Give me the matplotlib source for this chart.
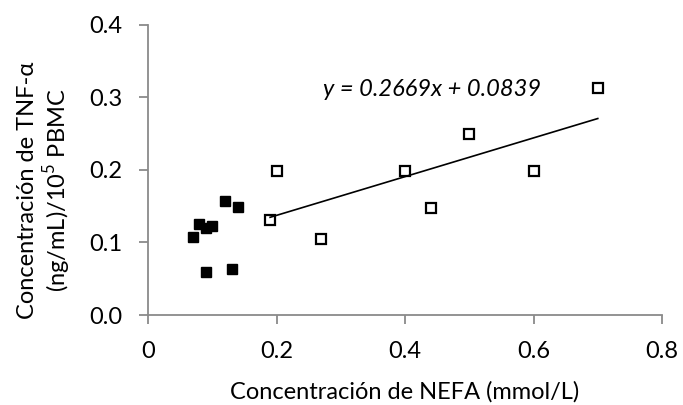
import matplotlib
matplotlib.use("Agg")
import matplotlib.pyplot as plt
import numpy as np

plt.rcParams["font.family"] = ["Lato", "DejaVu Sans"]
plt.rcParams["mathtext.fontset"] = "custom"
plt.rcParams["mathtext.rm"] = "Lato"

# filled squares
nefa_low = [0.07, 0.08, 0.09, 0.10, 0.12, 0.14, 0.09, 0.13]
tnf_low = [0.108, 0.126, 0.120, 0.122, 0.157, 0.149, 0.059, 0.063]

# open squares
nefa_high = [0.19, 0.20, 0.27, 0.40, 0.44, 0.50, 0.60, 0.70]
tnf_high = [0.131, 0.198, 0.105, 0.198, 0.148, 0.249, 0.198, 0.313]

slope, intercept = 0.2669, 0.0839

x_ticks = [0, 0.2, 0.4, 0.6, 0.8]
x_tick_labels = ["0", "0.2", "0.4", "0.6", "0.8"]
y_ticks = [0.0, 0.1, 0.2, 0.3, 0.4]

fig = plt.figure(figsize=(6.83, 4.05), dpi=100)
ax = fig.add_axes([0.2167, 0.2222, 0.9693 - 0.2167, 0.939 - 0.2222])

ax.plot(nefa_low, tnf_low, "s", color="black", markersize=7, linestyle="none")
ax.plot(nefa_high, tnf_high, "s", markerfacecolor="white", markeredgecolor="black",
        markeredgewidth=1.6, markersize=6.5, linestyle="none")

xl = np.array([min(nefa_high), max(nefa_high)])
ax.plot(xl, slope * xl + intercept, color="black", linewidth=1.2)

ax.text(0.4427, 0.3017, f"y = {slope:.4f}x + {intercept:.4f}", ha="center", va="baseline",
        fontsize=17, style="italic")

ax.set_xlim(0, 0.8)
ax.set_ylim(0, 0.4)
ax.set_xticks(x_ticks)
ax.set_xticklabels(x_tick_labels)
ax.set_yticks(y_ticks)
ax.set_yticklabels([f"{v:.1f}" for v in y_ticks])

for s in ["top", "right"]:
    ax.spines[s].set_visible(False)
for s in ["left", "bottom"]:
    ax.spines[s].set_color("#8a8a8a")
    ax.spines[s].set_linewidth(1.3)
ax.tick_params(axis="both", colors="#8a8a8a", length=6.5, width=1.3, labelsize=17,
               labelcolor="black", pad=12)

ax.set_xlabel("Concentración de NEFA (mmol/L)", fontsize=17)
ax.xaxis.set_label_coords(0.5, -0.228)
ax.set_ylabel("Concentración de TNF-α\n(ng/mL)/10$^{\\mathregular{5}}$ PBMC", fontsize=17,
              linespacing=1.15)
ax.yaxis.set_label_coords(-0.145, 0.43)

fig.savefig("out.png", dpi=100)
